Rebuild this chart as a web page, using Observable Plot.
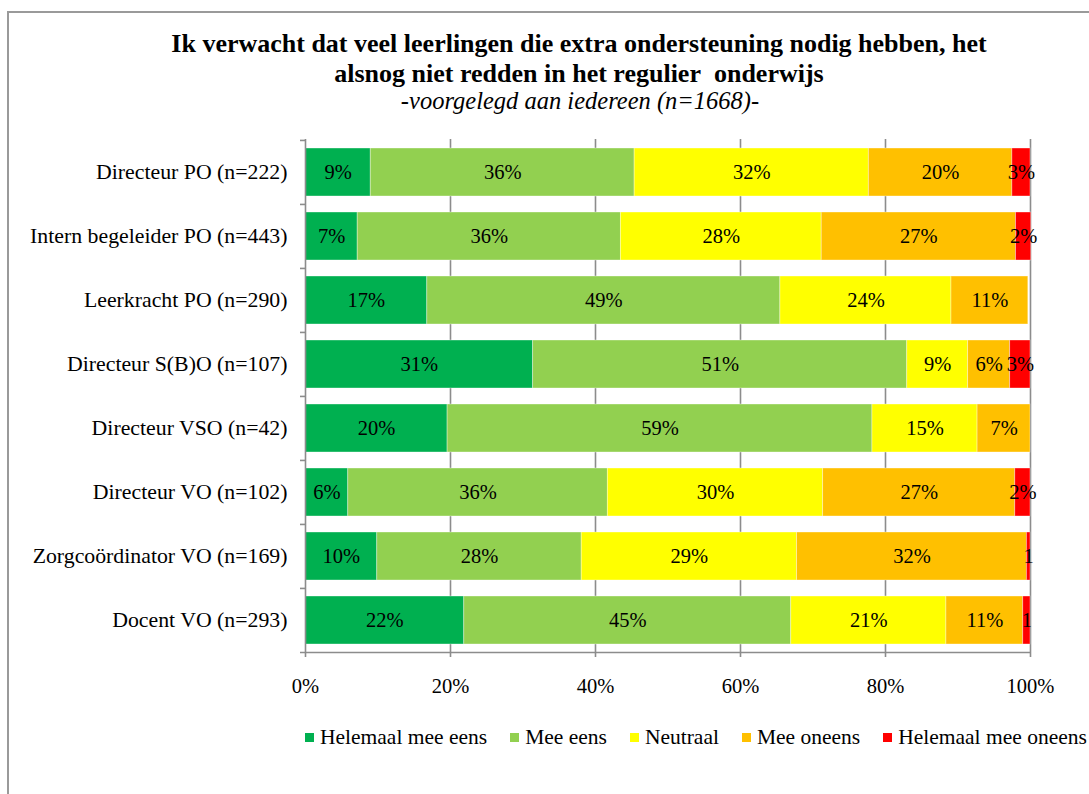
<!DOCTYPE html>
<html><head><meta charset="utf-8">
<script src="https://cdn.jsdelivr.net/npm/d3@7"></script>
<script src="https://cdn.jsdelivr.net/npm/@observablehq/plot@0.6"></script>
<style>
body{margin:0;background:#fff;}
#wrap{position:relative;width:1089px;height:794px;overflow:hidden;font-family:"Liberation Serif",serif;color:#000;background:#fff;}
#frame{position:absolute;left:7px;top:11px;width:1200px;height:900px;border-left:2px solid #9a9a9a;border-top:2px solid #9a9a9a;z-index:5;pointer-events:none;}
#title{position:absolute;left:0;width:1158px;top:29px;text-align:center;font-weight:bold;font-size:26px;line-height:30px;}
#sub{position:absolute;left:0;width:1160px;top:87px;text-align:center;font-style:italic;font-size:24.5px;line-height:28px;}
#chart{position:absolute;left:0;top:120px;}
#legend{position:absolute;left:305px;top:724px;display:flex;gap:23px;font-size:21.5px;line-height:26px;white-space:nowrap;}
#legend .it{display:flex;align-items:center;}
#legend .sw{width:9px;height:9px;margin-right:6px;}
</style></head>
<body><div id="wrap"><div id="frame"></div>
<div id="title">Ik verwacht dat veel leerlingen die extra ondersteuning nodig hebben, het<br>alsnog niet redden in het regulier&nbsp; onderwijs</div>
<div id="sub">-voorgelegd aan iedereen (n=1668)-</div>
<div id="chart"></div>
<div id="legend"></div>
</div>
<script>
const categories = ["Directeur PO (n=222)","Intern begeleider PO (n=443)","Leerkracht PO (n=290)","Directeur S(B)O (n=107)","Directeur VSO (n=42)","Directeur VO (n=102)","Zorgcoördinator VO (n=169)","Docent VO (n=293)"];
const series = ["Helemaal mee eens","Mee eens","Neutraal","Mee oneens","Helemaal mee oneens"];
const colors = ["#00B050","#92D050","#FFFF00","#FFC000","#FF0000"];
// values per series, in category order
const helemaalMeeEens = [9.0, 7.2, 16.8, 31.4, 19.6, 5.9, 9.9, 21.9];
const meeEens         = [36.4, 36.3, 48.7, 51.6, 58.6, 35.8, 28.2, 45.1];
const neutraal        = [32.3, 27.7, 23.6, 8.4, 14.5, 29.7, 29.7, 21.4];
const meeOneens       = [19.8, 26.8, 10.6, 5.8, 7.3, 26.5, 31.7, 10.6];
const helemaalOneens  = [2.5, 2.1, 0, 2.8, 0, 2.1, 0.5, 1.0];
// data labels as shown
const lblHelemaalMeeEens = ["9%","7%","17%","31%","20%","6%","10%","22%"];
const lblMeeEens         = ["36%","36%","49%","51%","59%","36%","28%","45%"];
const lblNeutraal        = ["32%","28%","24%","9%","15%","30%","29%","21%"];
const lblMeeOneens       = ["20%","27%","11%","6%","7%","27%","32%","11%"];
const lblHelemaalOneens  = ["3%","2%","","3%","","2%","1","1"];
const xTicks = [0,20,40,60,80,100];

const valueArrays = [helemaalMeeEens, meeEens, neutraal, meeOneens, helemaalOneens];
const labelArrays = [lblHelemaalMeeEens, lblMeeEens, lblNeutraal, lblMeeOneens, lblHelemaalOneens];
const data = [];
categories.forEach((c, i) => series.forEach((s, j) => data.push({cat: c, series: s, value: valueArrays[j][i], label: labelArrays[j][i]})));

const W = 1089, H = 600, mt = 19, mb = 68, ml = 305, mr = 59;
const step = (H - mt - mb) / categories.length;
const grey = "#8c8c8c";

const chart = Plot.plot({
  width: W, height: H, marginTop: mt, marginBottom: mb, marginLeft: ml, marginRight: mr,
  style: {fontFamily: "Liberation Serif, serif", fontSize: "20px", color: "#000", background: "transparent"},
  x: {domain: [0, 100], ticks: xTicks, tickFormat: d => d + "%"},
  y: {domain: categories, paddingInner: 0.25, paddingOuter: 0.125, label: null},
  color: {domain: series, range: colors},
  marks: [
    Plot.gridX(xTicks.filter(d => d > 0), {stroke: grey, strokeOpacity: 1, strokeWidth: 1.6}),
    Plot.barX(data, {x: "value", y: "cat", fill: "series", stroke: "#fff", strokeOpacity: 0.45, strokeWidth: 0.8}),
    Plot.text(data, Plot.stackX({x: "value", y: "cat", text: "label", fill: "#000", fontSize: 20.5})),
    Plot.ruleX([0], {stroke: grey, strokeWidth: 1.6}),
    Plot.ruleY(categories, {y: d => d, x1: 0, x2: 0, insetLeft: -5, dy: -step / 2, stroke: grey, strokeWidth: 1.6}),
    Plot.ruleY([categories[categories.length - 1]], {y: d => d, x1: 0, x2: 100, insetLeft: -5, dy: step / 2, stroke: grey, strokeWidth: 1.6}),
    Plot.axisX(xTicks, {tickSize: 5, tickPadding: 21, stroke: grey, strokeWidth: 1.6, fontSize: 20.5, label: null, tickFormat: d => d + "%"}),
    Plot.axisY({tickSize: 0, tickPadding: 18, fontSize: 21.8, label: null})
  ]
});
document.getElementById("chart").appendChild(chart);

const leg = document.getElementById("legend");
series.forEach((s, j) => {
  const it = document.createElement("div"); it.className = "it";
  const sw = document.createElement("div"); sw.className = "sw"; sw.style.background = colors[j];
  const t = document.createElement("span"); t.textContent = s;
  it.appendChild(sw); it.appendChild(t); leg.appendChild(it);
});
</script>
</body></html>
